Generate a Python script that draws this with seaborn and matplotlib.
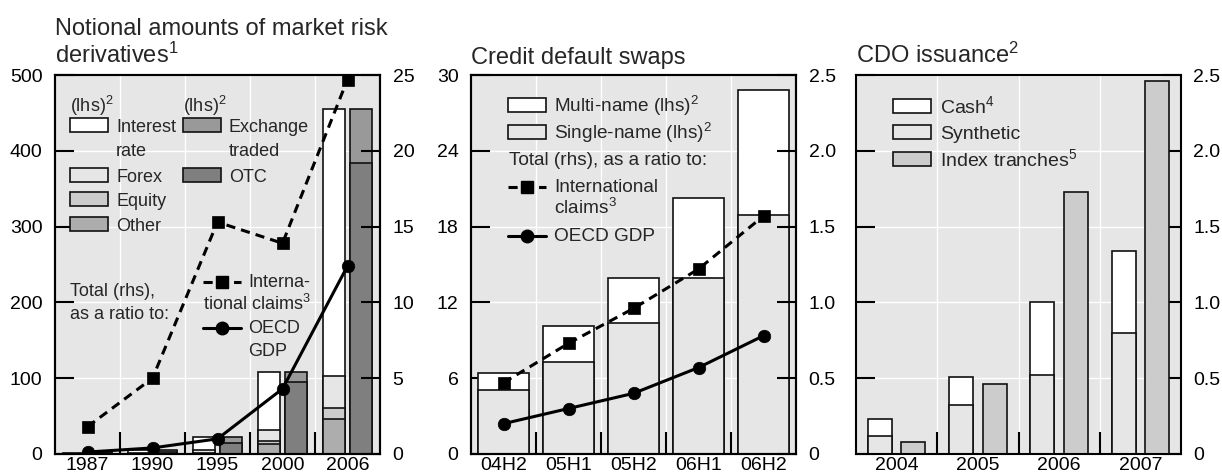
import numpy as np
import pandas as pd
import matplotlib
matplotlib.use("Agg")
import matplotlib.pyplot as plt
import seaborn as sns
from matplotlib.patches import Rectangle
from matplotlib.lines import Line2D
from matplotlib.ticker import FixedLocator, FuncFormatter

# ---------------- data ----------------
years_mr = ["1987", "1990", "1995", "2000", "2006"]
interest_rate = [1.2, 3.5, 17.5, 76.0, 353.0]
forex = [0.4, 1.5, 4.0, 15.0, 42.0]
equity = [0.05, 0.2, 0.6, 4.0, 14.5]
other = [0.05, 0.1, 0.4, 13.0, 46.0]
exchange_traded = [0.7, 2.3, 8.0, 13.0, 71.0]
otc = [1.0, 3.0, 14.5, 95.0, 384.5]
mr_intl_claims = [1.8, 5.0, 15.3, 13.9, 24.7]
mr_oecd_gdp = [0.13, 0.4, 1.0, 4.3, 12.4]

periods_cds = ["04H2", "05H1", "05H2", "06H1", "06H2"]
single_name = [5.1, 7.3, 10.4, 13.9, 18.9]
multi_name = [1.3, 2.8, 3.5, 6.4, 9.9]
cds_intl_claims = [0.47, 0.73, 0.96, 1.22, 1.57]
cds_oecd_gdp = [0.20, 0.30, 0.40, 0.57, 0.78]

years_cdo = ["2004", "2005", "2006", "2007"]
synthetic = [0.12, 0.32, 0.52, 0.80]
cash = [0.11, 0.19, 0.48, 0.54]
index_tranches = [0.08, 0.46, 1.73, 2.46]

# ---------------- style ----------------
BG = "#e6e6e6"
C_INT, C_FX, C_EQ, C_OTH = "white", "#e6e6e6", "#cccccc", "#adadad"
C_EXC, C_OTC = "#999999", "#7f7f7f"
C_MULTI, C_SINGLE = "white", "#e6e6e6"
C_CASH, C_SYN, C_IDX = "white", "#e6e6e6", "#cccccc"
EDGE = "#111111"
BAR_LW = 1.2
FS_TICK = 14
FS_TITLE = 17

sns.set_theme(style="white")
plt.rcParams["font.family"] = ["Liberation Sans", "DejaVu Sans"]
plt.rcParams["mathtext.fontset"] = "custom"
plt.rcParams["mathtext.rm"] = "Liberation Sans"
plt.rcParams["mathtext.it"] = "Liberation Sans:italic"
plt.rcParams["mathtext.bf"] = "Liberation Sans:bold"
plt.rcParams["mathtext.default"] = "regular"
plt.rcParams["axes.facecolor"] = BG
plt.rcParams["axes.edgecolor"] = "black"

W, H = 1222, 475
fig = plt.figure(figsize=(W / 100, H / 100), dpi=100)


def fx(x):
    return x / W


def fy(y):
    return 1 - y / H


def make_ax(x0, x1, top=75, bottom=454):
    return fig.add_axes([fx(x0), fy(bottom), (x1 - x0) / W, (bottom - top) / H])


def fmt_ratio(v, _):
    return "0" if abs(v) < 1e-9 else f"{v:.1f}"


def dodged_layers(ax, cats, layers, width, gap):
    n = len(cats)
    for (lv, lc), (rv, rc) in layers:
        df = pd.DataFrame({
            "cat": list(cats) * 2,
            "side": ["a"] * n + ["b"] * n,
            "value": list(lv) + list(rv),
        })
        sns.barplot(data=df, x="cat", y="value", hue="side", hue_order=["a", "b"],
                    order=cats, palette={"a": lc, "b": rc}, width=width, gap=gap,
                    dodge=True, saturation=1, edgecolor=EDGE, linewidth=BAR_LW,
                    errorbar=None, legend=False, ax=ax)


def style_axes(ax, n, yticks, ylim):
    ax.set_xlim(-0.5, n - 0.5)
    ax.set_ylim(*ylim)
    ax.set_yticks(yticks)
    ax.set_xlabel("")
    ax.set_ylabel("")
    ax.xaxis.set_minor_locator(FixedLocator(np.arange(0.5, n - 1, 1.0)))
    ax.tick_params(axis="x", which="major", length=0, pad=2, labelsize=FS_TICK, colors="black")
    ax.tick_params(axis="x", which="minor", direction="in", length=16, width=1.5,
                   color="black", bottom=True, top=False)
    ax.tick_params(axis="y", which="major", direction="in", length=14, width=1.5,
                   pad=9, labelsize=FS_TICK, colors="black")
    ax.grid(False)
    ax.grid(True, which="minor", axis="x", color="white", linewidth=1.0)
    ax.grid(True, which="major", axis="y", color="white", linewidth=1.0)
    ax.set_axisbelow(True)
    for sp in ax.spines.values():
        sp.set_visible(True)
        sp.set_linewidth(1.5)
        sp.set_color("black")


def add_lines(ax2, n, intl, gdp):
    xs = np.arange(n)
    sns.lineplot(x=xs, y=intl, ax=ax2, color="black", linewidth=2.2,
                 linestyle=(0, (3, 2)), marker="s", markersize=8,
                 markeredgecolor="black", markerfacecolor="black", markeredgewidth=0.5)
    sns.lineplot(x=xs, y=gdp, ax=ax2, color="black", linewidth=2.2,
                 marker="o", markersize=9, markeredgecolor="black",
                 markerfacecolor="black", markeredgewidth=0.5)
    ax2.set_xlabel("")
    ax2.set_ylabel("")


def style_twin(axb, ylim, yticks, formatter=None):
    axb.set_ylim(*ylim)
    axb.set_yticks(yticks)
    if formatter is not None:
        axb.yaxis.set_major_formatter(FuncFormatter(formatter))
    axb.tick_params(axis="y", direction="in", length=14, width=1.5, pad=9,
                    labelsize=FS_TICK, colors="black")
    axb.grid(False)
    for sp in axb.spines.values():
        sp.set_linewidth(1.5)
        sp.set_color("black")


# ---------------- panel 1 ----------------
ax1 = make_ax(55, 380)
n1 = len(years_mr)
l_oth = np.array(other)
l_eq = l_oth + np.array(equity)
l_fx = l_eq + np.array(forex)
l_int = l_fx + np.array(interest_rate)
r_otc = np.array(otc)
r_exc = r_otc + np.array(exchange_traded)
zeros = np.zeros(n1)
dodged_layers(ax1, years_mr, [
    ((l_int, C_INT), (r_exc, C_EXC)),
    ((l_fx, C_FX), (r_otc, C_OTC)),
    ((l_eq, C_EQ), (zeros, C_OTC)),
    ((l_oth, C_OTH), (zeros, C_OTC)),
], width=0.84, gap=0.176)
style_axes(ax1, n1, np.arange(0, 501, 100), (0, 500))
ax1.tick_params(axis="y", right=False)
ax1b = ax1.twinx()
add_lines(ax1b, n1, mr_intl_claims, mr_oecd_gdp)
style_twin(ax1b, (0, 25), np.arange(0, 26, 5))
ax1.set_xlim(-0.5, n1 - 0.5)

# ---------------- panel 2 ----------------
ax2 = make_ax(471, 796)
n2 = len(periods_cds)
cds_total = np.array(single_name) + np.array(multi_name)
sns.barplot(x=periods_cds, y=cds_total, order=periods_cds, color=C_MULTI, saturation=1,
            width=0.77, edgecolor=EDGE, linewidth=BAR_LW, errorbar=None, ax=ax2)
sns.barplot(x=periods_cds, y=single_name, order=periods_cds, color=C_SINGLE, saturation=1,
            width=0.77, edgecolor=EDGE, linewidth=BAR_LW, errorbar=None, ax=ax2)
style_axes(ax2, n2, np.arange(0, 31, 6), (0, 30))
ax2.tick_params(axis="y", right=False)
ax2b = ax2.twinx()
add_lines(ax2b, n2, cds_intl_claims, cds_oecd_gdp)
style_twin(ax2b, (0, 2.5), np.arange(0, 2.51, 0.5), fmt_ratio)
ax2.set_xlim(-0.5, n2 - 0.5)

# ---------------- panel 3 ----------------
ax3 = make_ax(856, 1181)
n3 = len(years_cdo)
cdo_left = np.array(synthetic) + np.array(cash)
dodged_layers(ax3, years_cdo, [
    ((cdo_left, C_CASH), (np.array(index_tranches), C_IDX)),
    ((np.array(synthetic), C_SYN), (np.zeros(n3), C_IDX)),
], width=0.82, gap=0.28)
style_axes(ax3, n3, np.arange(0, 2.51, 0.5), (0, 2.5))
ax3.yaxis.set_major_formatter(FuncFormatter(fmt_ratio))
ax3.tick_params(axis="y", left=True, right=True, labelleft=False, labelright=True)

# ---------------- titles ----------------
fig.text(fx(55), fy(35), "Notional amounts of market risk", fontsize=FS_TITLE, va="baseline")
fig.text(fx(55), fy(63), "derivatives$^{1}$", fontsize=FS_TITLE, va="baseline")
fig.text(fx(471), fy(64), "Credit default swaps", fontsize=FS_TITLE, va="baseline")
fig.text(fx(856), fy(63), "CDO issuance$^{2}$", fontsize=FS_TITLE, va="baseline")

# ---------------- legends ----------------
BW = 38


def box(x, base, color):
    fig.add_artist(Rectangle((fx(x), fy(base)), BW / W, 14 / H, facecolor=color,
                             edgecolor=EDGE, linewidth=1.2, transform=fig.transFigure))


def label(x, base, s, size):
    fig.text(fx(x), fy(base), s, ha="left", va="baseline", fontsize=size)


def line_handle(x, yc, dashed, marker, ms):
    fig.add_artist(Line2D([fx(x), fx(x + BW)], [fy(yc), fy(yc)], color="black", linewidth=2.2,
                          linestyle=(0, (3, 2)) if dashed else "-", transform=fig.transFigure))
    fig.add_artist(Line2D([fx(x + BW / 2)], [fy(yc)], marker=marker, markersize=ms,
                          color="black", linestyle="none", transform=fig.transFigure))


# panel 1
s1 = 13
label(70, 112, "(lhs)$^{2}$", s1)
label(183, 112, "(lhs)$^{2}$", s1)
box(70, 132, C_INT); label(116, 132, "Interest", s1)
label(116, 156.5, "rate", s1)
box(70, 181.5, C_FX); label(116, 181.5, "Forex", s1)
box(70, 206.5, C_EQ); label(116, 206.5, "Equity", s1)
box(70, 231, C_OTH); label(116, 231, "Other", s1)
box(183, 132, C_EXC); label(229, 132, "Exchange", s1)
label(229, 156.5, "traded", s1)
box(183, 181.5, C_OTC); label(229, 181.5, "OTC", s1)
label(70, 296, "Total (rhs),", s1)
label(70, 319, "as a ratio to:", s1)
line_handle(203, 282, True, "s", 8)
label(248, 287, "Interna-", s1)
label(203, 310, "tional claims$^{3}$", s1)
line_handle(203, 328, False, "o", 9)
label(248, 333, "OECD", s1)
label(248, 356, "GDP", s1)

# panel 2
s2 = 13.7
box(508, 112, C_MULTI); label(554, 112, "Multi-name (lhs)$^{2}$", s2)
box(508, 139, C_SINGLE); label(554, 139, "Single-name (lhs)$^{2}$", s2)
label(509, 165, "Total (rhs), as a ratio to:", s2)
line_handle(508, 187, True, "s", 8)
label(554, 192, "International", s2)
label(554, 214, "claims$^{3}$", s2)
line_handle(508, 236, False, "o", 9)
label(554, 241, "OECD GDP", s2)

# panel 3
s3 = 14
box(893, 113, C_CASH); label(940, 113, "Cash$^{4}$", s3)
box(893, 139, C_SYN); label(940, 139, "Synthetic", s3)
box(893, 166, C_IDX); label(940, 166, "Index tranches$^{5}$", s3)

fig.savefig("out.png", dpi=100)
